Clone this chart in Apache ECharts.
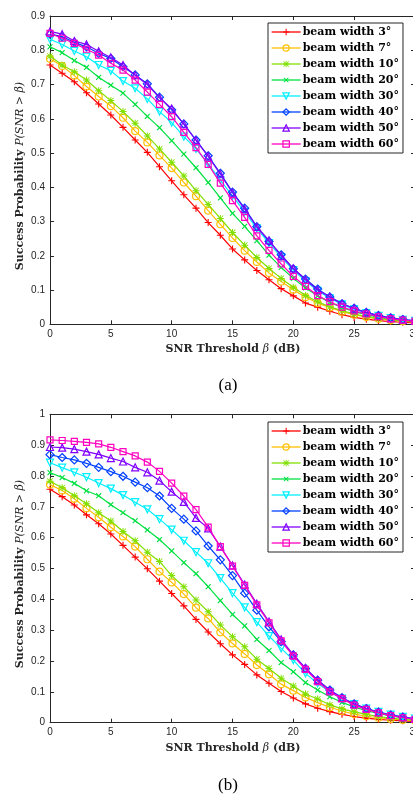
<!DOCTYPE html>
<html><head><meta charset="utf-8">
<script src="https://cdn.jsdelivr.net/npm/echarts@6/dist/echarts.min.js"></script>
<style>html,body{margin:0;padding:0;background:#fff;overflow:hidden}#c{width:413px;height:794px}</style>
</head><body><div id="c"></div>
<script>
const snr = [0,1,2,3,4,5,6,7,8,9,10,11,12,13,14,15,16,17,18,19,20,21,22,23,24,25,26,27,28,29,30];
const names = ['beam width 3°','beam width 7°','beam width 10°','beam width 20°','beam width 30°','beam width 40°','beam width 50°','beam width 60°'];

// (a)
const a3  = [0.757,0.733,0.708,0.676,0.643,0.611,0.575,0.538,0.502,0.460,0.419,0.378,0.339,0.297,0.260,0.220,0.188,0.157,0.130,0.104,0.083,0.062,0.050,0.038,0.028,0.020,0.015,0.011,0.008,0.006,0.004];
const a7  = [0.775,0.754,0.726,0.694,0.665,0.637,0.603,0.564,0.531,0.493,0.456,0.414,0.374,0.332,0.292,0.252,0.215,0.182,0.150,0.125,0.101,0.079,0.062,0.049,0.037,0.028,0.021,0.016,0.012,0.009,0.007];
const a10 = [0.783,0.757,0.737,0.713,0.682,0.653,0.621,0.587,0.550,0.512,0.473,0.433,0.390,0.350,0.309,0.268,0.231,0.195,0.163,0.134,0.108,0.084,0.066,0.051,0.040,0.030,0.023,0.017,0.013,0.010,0.008];
const a20 = [0.810,0.793,0.770,0.750,0.721,0.698,0.675,0.642,0.607,0.574,0.536,0.497,0.457,0.414,0.369,0.324,0.286,0.244,0.202,0.166,0.134,0.106,0.083,0.064,0.049,0.037,0.028,0.021,0.016,0.012,0.009];
const a30 = [0.832,0.817,0.798,0.781,0.757,0.740,0.710,0.689,0.658,0.621,0.589,0.548,0.512,0.468,0.421,0.375,0.328,0.280,0.237,0.196,0.158,0.126,0.098,0.076,0.058,0.044,0.033,0.025,0.018,0.013,0.010];
const a40 = [0.847,0.840,0.823,0.810,0.791,0.776,0.752,0.728,0.702,0.663,0.626,0.585,0.538,0.492,0.441,0.386,0.339,0.285,0.242,0.203,0.162,0.132,0.103,0.080,0.060,0.047,0.035,0.026,0.019,0.014,0.010];
const a50 = [0.855,0.847,0.827,0.817,0.797,0.779,0.757,0.727,0.700,0.661,0.630,0.584,0.537,0.490,0.438,0.384,0.336,0.284,0.245,0.200,0.163,0.130,0.100,0.080,0.060,0.046,0.034,0.025,0.018,0.013,0.010];
const a60 = [0.849,0.835,0.820,0.803,0.786,0.762,0.742,0.713,0.678,0.642,0.606,0.560,0.516,0.467,0.412,0.361,0.312,0.258,0.216,0.176,0.140,0.111,0.084,0.066,0.050,0.039,0.030,0.022,0.016,0.012,0.009];

// (b)
const b3  = [0.757,0.733,0.706,0.674,0.645,0.612,0.575,0.537,0.499,0.459,0.419,0.379,0.335,0.294,0.256,0.220,0.189,0.155,0.128,0.101,0.080,0.061,0.047,0.036,0.027,0.020,0.015,0.011,0.008,0.006,0.004];
const b7  = [0.772,0.753,0.726,0.695,0.666,0.634,0.604,0.571,0.530,0.490,0.455,0.417,0.373,0.338,0.293,0.257,0.223,0.187,0.157,0.125,0.104,0.082,0.065,0.050,0.038,0.028,0.021,0.016,0.012,0.009,0.007];
const b10 = [0.783,0.762,0.736,0.710,0.681,0.654,0.620,0.590,0.553,0.523,0.477,0.441,0.398,0.360,0.317,0.279,0.246,0.206,0.176,0.144,0.119,0.093,0.077,0.058,0.045,0.035,0.027,0.020,0.015,0.011,0.008];
const b20 = [0.811,0.795,0.776,0.752,0.736,0.707,0.681,0.655,0.625,0.594,0.557,0.519,0.483,0.441,0.396,0.351,0.314,0.270,0.234,0.195,0.165,0.130,0.106,0.084,0.066,0.051,0.039,0.030,0.022,0.016,0.012];
const b30 = [0.843,0.827,0.812,0.796,0.777,0.759,0.738,0.715,0.692,0.660,0.626,0.590,0.553,0.517,0.469,0.420,0.374,0.326,0.281,0.241,0.203,0.160,0.127,0.100,0.078,0.060,0.046,0.035,0.026,0.019,0.013];
const b40 = [0.869,0.860,0.852,0.841,0.828,0.814,0.799,0.780,0.762,0.735,0.695,0.660,0.622,0.573,0.528,0.477,0.420,0.365,0.311,0.263,0.220,0.176,0.138,0.106,0.081,0.061,0.046,0.034,0.025,0.018,0.012];
const b50 = [0.894,0.892,0.887,0.879,0.870,0.858,0.847,0.828,0.812,0.785,0.749,0.716,0.664,0.630,0.571,0.510,0.448,0.386,0.328,0.270,0.220,0.177,0.138,0.105,0.080,0.060,0.046,0.034,0.025,0.018,0.012];
const b60 = [0.917,0.915,0.912,0.909,0.904,0.893,0.879,0.865,0.845,0.815,0.777,0.735,0.691,0.634,0.571,0.508,0.445,0.382,0.324,0.265,0.216,0.173,0.133,0.100,0.078,0.057,0.043,0.032,0.023,0.016,0.011];

const setA = [a3,a7,a10,a20,a30,a40,a50,a60];
const setB = [b3,b7,b10,b20,b30,b40,b50,b60];

const PLUS = 'path://M4.2,0H5.8V4.2H10V5.8H5.8V10H4.2V5.8H0V4.2H4.2Z';
const AST = 'path://M4.3,0H5.7V4.3H10V5.7H5.7V10H4.3V5.7H0V4.3H4.3Z M1.3,0.5L5,4.2L8.7,0.5L9.5,1.3L5.8,5L9.5,8.7L8.7,9.5L5,5.8L1.3,9.5L0.5,8.7L4.2,5L0.5,1.3Z';
const looks = [
  {c:'#ff0000', sym:PLUS, size:7, rot:0, filled:true},
  {c:'#ffbf00', sym:'circle', size:7, rot:0, filled:false},
  {c:'#80e000', sym:AST, size:7, rot:0, filled:true},
  {c:'#00e040', sym:PLUS, size:7, rot:45, filled:true},
  {c:'#00f0ff', sym:'triangle', size:7, rot:180, filled:false},
  {c:'#0040ff', sym:'diamond', size:8, rot:0, filled:false},
  {c:'#8000ff', sym:'triangle', size:7, rot:0, filled:false},
  {c:'#ff00c0', sym:'rect', size:6, rot:0, filled:false}
];
const hollow = 'rgba(255,255,255,0)';
function itemStyleOf(L){
  return L.filled ? {color:L.c, borderWidth:0} : {color:hollow, borderColor:L.c, borderWidth:1.2};
}

const axisCol = '#262626';
function xAx(g, pos){
  return {gridIndex:g, type:'value', min:0, max:30, interval:5, position:pos,
    axisLine:{onZero:false, lineStyle:{color:axisCol, width:1}},
    axisTick:{show:true, inside:true, length:4, lineStyle:{color:axisCol}},
    axisLabel:{show:pos==='bottom', fontSize:10, color:axisCol, margin:5, fontFamily:'Liberation Sans'},
    splitLine:{show:false}};
}
function yAx(g, pos, max){
  return {gridIndex:g, type:'value', min:0, max:max, interval:0.1, position:pos,
    axisLine:{onZero:false, lineStyle:{color:axisCol, width:1}},
    axisTick:{show:true, inside:true, length:4, lineStyle:{color:axisCol}},
    axisLabel:{show:pos==='left', fontSize:10, color:axisCol, margin:5, fontFamily:'Liberation Sans'},
    splitLine:{show:false}};
}

const series = [];
[setA, setB].forEach((set, g) => {
  set.forEach((vals, i) => {
    const L = looks[i];
    series.push({
      name: names[i], type:'line', xAxisIndex: g*2, yAxisIndex: g*2,
      data: snr.map((x, k) => [x, vals[k]]),
      symbol: L.sym, symbolSize: L.size, symbolRotate: L.rot, showAllSymbol: true,
      lineStyle:{color:L.c, width:1.2},
      itemStyle: itemStyleOf(L),
      emphasis:{disabled:true}, z: 2 + i
    });
  });
});

function legendAt(top){
  return {data:names.map((n,i)=>({name:n, itemStyle:itemStyleOf(looks[i]), lineStyle:{color:looks[i].c, width:1.3}})),
    orient:'vertical', left:268, top:top, padding:[2,4,2,3],
    itemGap:2, itemWidth:29, itemHeight:8,
    borderColor:axisCol, borderWidth:1, backgroundColor:'#fff',
    textStyle:{fontFamily:'DejaVu Serif', fontWeight:'bold', fontSize:11, color:'#000', lineHeight:14, padding:[0,0,0,-3]},
    selectedMode:false};
}

const serif = 'DejaVu Serif';
function xTitle(y){
  return {type:'text', x:233, y:y, style:{text:'{b|SNR Threshold }{i|β}{b| (dB)}', align:'center', verticalAlign:'middle',
    rich:{b:{fontFamily:serif, fontWeight:'bold', fontSize:11, fill:axisCol}, i:{fontFamily:serif, fontStyle:'italic', fontSize:11, fill:axisCol}}}};
}
function yTitle(y){
  return {type:'text', x:20, y:y, rotation:Math.PI/2, style:{text:'{b|Success Probability }{i|P(SNR > β)}', align:'center', verticalAlign:'middle',
    rich:{b:{fontFamily:serif, fontWeight:'bold', fontSize:11, fill:axisCol}, i:{fontFamily:serif, fontStyle:'italic', fontSize:11, fill:axisCol}}}};
}

const chart = echarts.init(document.getElementById('c'), null, {renderer:'canvas', width:413, height:794});
chart.setOption({
  animation:false,
  backgroundColor:'#fff',
  grid:[
    {left:50, top:16, width:365, height:308.3, outerBoundsMode:'none', containLabel:false},
    {left:50, top:414.3, width:365, height:308.4, outerBoundsMode:'none', containLabel:false}
  ],
  xAxis:[xAx(0,'bottom'), xAx(0,'top'), xAx(1,'bottom'), xAx(1,'top')],
  yAxis:[yAx(0,'left',0.9), yAx(0,'right',0.9), yAx(1,'left',1), yAx(1,'right',1)],
  legend:[legendAt(23), legendAt(422)],
  series: series,
  graphic:[
    xTitle(349), yTitle(176), xTitle(748), yTitle(574),
    {type:'text', x:228, y:386, style:{text:'(a)', align:'center', verticalAlign:'middle', fontFamily:'Liberation Serif', fontSize:17, fill:'#000'}},
    {type:'text', x:228, y:786, style:{text:'(b)', align:'center', verticalAlign:'middle', fontFamily:'Liberation Serif', fontSize:17, fill:'#000'}}
  ]
});
</script>
</body></html>
